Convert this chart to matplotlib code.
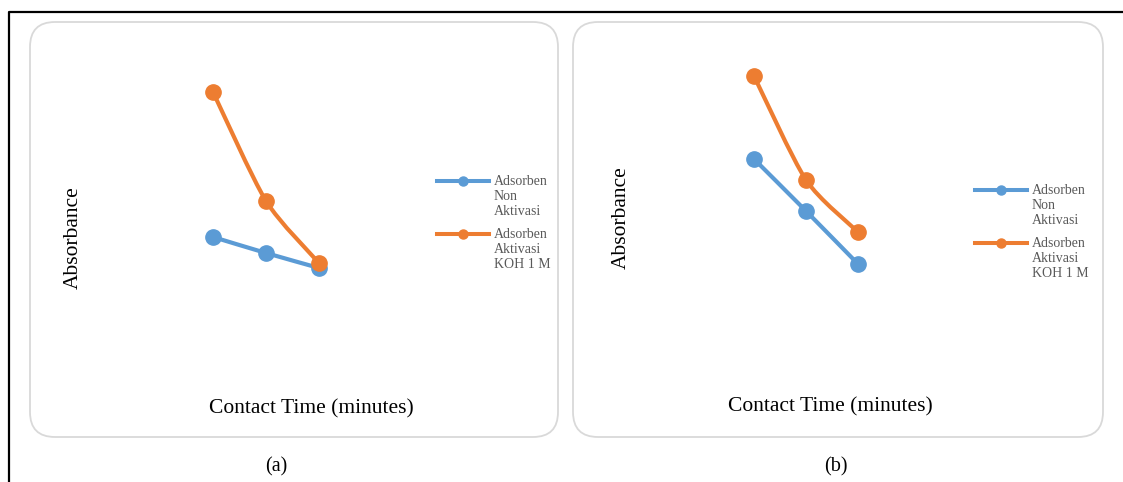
import numpy as np
import matplotlib.pyplot as plt
from matplotlib.path import Path
from matplotlib.patches import PathPatch, FancyBboxPatch
from matplotlib.lines import Line2D

plt.rcParams['font.family'] = ['Liberation Serif', 'DejaVu Serif']

W, H = 1123, 482

# contact time steps (no tick labels on the axis)
time = [1, 2, 3]

# absorbance, panel (a)
a_non = [1.63, 1.47, 1.32]
a_koh = [3.08, 1.99, 1.37]

# absorbance, panel (b)
b_non = [2.41, 1.89, 1.36]
b_koh = [3.24, 2.20, 1.68]

labels = ['Adsorben\nNon\nAktivasi', 'Adsorben\nAktivasi\nKOH 1 M']
blue = '#5B9BD5'
orange = '#ED7D31'
gray_txt = '#595959'


def fx(x):
    return x / W


def fy(y):
    return 1 - y / H


def smooth_path(x, y, k=8.0):
    # cardinal-spline bezier through the points, like a smoothed Excel line
    p = np.column_stack([x, y]).astype(float)
    pts = np.vstack([p[0], p, p[-1]])
    verts = [p[0]]
    codes = [Path.MOVETO]
    for i in range(1, len(pts) - 2):
        p0, p1, p2, p3 = pts[i - 1], pts[i], pts[i + 1], pts[i + 2]
        c1 = p1 + (p2 - p0) / k
        c2 = p2 - (p3 - p1) / k
        verts += [c1, c2, p2]
        codes += [Path.CURVE4] * 3
    return Path(verts, codes)


fig = plt.figure(figsize=(W / 100, H / 100), dpi=100)

# outer frame (top and left edges)
fig.add_artist(Line2D([fx(9), fx(9), fx(W)], [fy(H), fy(12), fy(12)],
                      color='black', lw=1.6, transform=fig.transFigure))


def panel(box, axx, series, ylab, xlab, leg, tag, tagtext):
    x0, x1 = box
    frame = FancyBboxPatch((fx(x0 + 25), fy(437 - 25)),
                           fx(x1 - x0 - 50), (437 - 22 - 50) / H,
                           boxstyle='round,pad=%f' % (25 / W),
                           mutation_aspect=W / H,
                           transform=fig.transFigure,
                           facecolor='none', edgecolor='#D9D9D9', lw=1.3)
    frame.set_zorder(-1)
    fig.add_artist(frame)
    ax = fig.add_axes([fx(axx[0]), fy(400), fx(axx[1] - axx[0]), 350 / H])
    ax.set_xlim(0, 4)
    ax.set_ylim(0, 3.5)
    ax.axis('off')
    for vals, c in series:
        ax.add_patch(PathPatch(smooth_path(time, vals), facecolor='none',
                               edgecolor=c, lw=3.0, capstyle='round', zorder=2))
        ax.plot(time, vals, ls='none', marker='o', ms=11, color=c, zorder=3)

    fig.text(fx(ylab[0]), fy(ylab[1]), 'Absorbance', rotation=90,
             ha='center', va='center', fontsize=15.5)
    fig.text(fx(xlab[0]), fy(xlab[1]), 'Contact Time (minutes)',
             ha='center', va='center', fontsize=15.5)

    lx, ly = leg
    for k, ((vals, c), lab) in enumerate(zip(series, labels)):
        yy = ly + k * 53
        fig.add_artist(Line2D([fx(lx), fx(lx + 52)], [fy(yy), fy(yy)], color=c,
                              lw=2.9, transform=fig.transFigure))
        fig.add_artist(Line2D([fx(lx + 26)], [fy(yy)], color=c, marker='o',
                              ms=6.5, transform=fig.transFigure))
        fig.text(fx(lx + 57), fy(yy - 6), lab, ha='left', va='top',
                 fontsize=10, color=gray_txt, linespacing=1.22)

    fig.text(fx(tag[0]), fy(tag[1]), tagtext, ha='center', va='center',
             fontsize=14.5)


panel((30, 558), (160, 372), [(a_non, blue), (a_koh, orange)],
      (73, 238), (311, 409), (437, 181), (276, 467), '(a)')
panel((573, 1103), (702, 910), [(b_non, blue), (b_koh, orange)],
      (621, 218), (830, 407), (975, 190), (836, 467), '(b)')

fig.savefig('out.png', dpi=100)
